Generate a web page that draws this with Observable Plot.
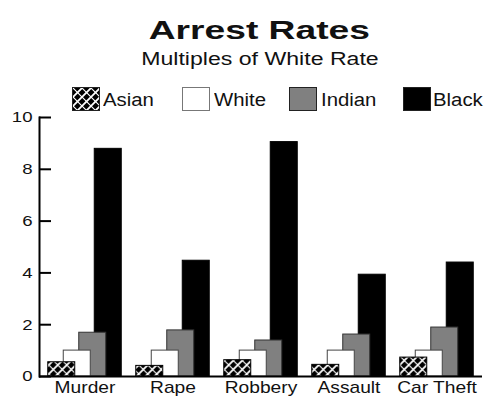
<!DOCTYPE html>
<html>
<head>
<meta charset="utf-8">
<script src="https://cdn.jsdelivr.net/npm/d3@7"></script>
<script src="https://cdn.jsdelivr.net/npm/@observablehq/plot@0.6"></script>
<style>
  body { margin: 0; background: #fff; font-family: "Liberation Sans", Arial, sans-serif; }
  #wrap { position: relative; width: 499px; height: 398px; overflow: hidden; }
  #head { position: relative; width: 499px; height: 104px; z-index: 2; }
  .t { position: absolute; left: 0; width: 519px; text-align: center; color: #111; white-space: nowrap; }
  .t span { display: inline-block; transform-origin: 50% 50%; }
  #title { top: 17px; font-size: 26px; line-height: 26px; font-weight: bold; }
  #title span { transform: scaleX(1.43); }
  #sub { top: 51px; font-size: 17.5px; line-height: 17.5px; }
  #sub span { transform: scaleX(1.32); }
  .sw { position: absolute; top: 87px; width: 26px; height: 22px; border: 1px solid #222; }
  .lt { position: absolute; top: 91px; font-size: 18px; line-height: 18px; color: #111; white-space: nowrap; transform: scaleX(1.13); transform-origin: 0 50%; }
  #chart { position: absolute; top: 104px; left: 0; z-index: 1; }
  #chart svg { background: transparent !important; }
</style>
</head>
<body>
<div id="wrap">
  <div id="head">
    <div class="t" id="title"><span></span></div>
    <div class="t" id="sub"><span></span></div>
    <div id="legend"></div>
  </div>
  <div id="chart"></div>
</div>
<script>
const title = "Arrest Rates";
const subtitle = "Multiples of White Rate";
const categories = ["Murder", "Rape", "Robbery", "Assault", "Car Theft"];
const series = ["Asian", "White", "Indian", "Black"];
const asian = [0.55, 0.41, 0.63, 0.45, 0.73];
const white = [1.0, 1.0, 1.0, 1.0, 1.0];
const indian = [1.69, 1.78, 1.39, 1.62, 1.89];
const black = [8.79, 4.47, 9.05, 3.93, 4.40];
const yTicks = [0, 2, 4, 6, 8, 10];

const values = {Asian: asian, White: white, Indian: indian, Black: black};
const fills = {Asian: "url(#asianHatch)", White: "#ffffff", Indian: "#808080", Black: "#000000"};
const strokes = {Asian: "#000", White: "#444", Indian: "#333", Black: "#000"};
const offsets = {Asian: -23.25, White: -7.75, Indian: 7.75, Black: 23.25};

document.querySelector("#title span").textContent = title;
document.querySelector("#sub span").textContent = subtitle;

// legend
const legendPos = {Asian: [72, 103], White: [182, 214], Indian: [289, 321], Black: [403, 433]};
const legend = document.getElementById("legend");
series.forEach(s => {
  const sw = document.createElement("div");
  sw.className = "sw";
  sw.style.left = legendPos[s][0] + "px";
  if (s === "Asian") {
    sw.innerHTML = '<svg width="26" height="22" style="display:block"><rect width="26" height="22" fill="url(#asianHatchL)"/></svg>';
  } else {
    sw.style.background = fills[s];
  }
  if (s === "White") sw.style.borderColor = "#777";
  legend.appendChild(sw);
  const lt = document.createElement("div");
  lt.className = "lt";
  lt.style.left = legendPos[s][1] + "px";
  lt.textContent = s;
  legend.appendChild(lt);
});

const rows = s => categories.map((c, i) => ({category: c, value: values[s][i]}));
const drawOrder = series.slice().reverse(); // Asian ends up on top

const plot = Plot.plot({
  width: 499,
  height: 294,
  marginTop: 13,
  marginBottom: 22,
  marginLeft: 39,
  marginRight: 17,
  style: {fontFamily: "Liberation Sans, Arial, sans-serif", fontSize: "15px", color: "#111", background: "transparent"},
  x: {type: "band", domain: categories, paddingInner: 0.695, paddingOuter: 0.35, axis: null},
  y: {domain: [0, 10], axis: null},
  marks: [
    ...drawOrder.map(s => Plot.barY(rows(s), {
      x: "category", y: "value", dx: offsets[s],
      fill: fills[s], stroke: strokes[s], strokeWidth: 1
    })),
    Plot.axisX({tickSize: 0, tickPadding: 5, fontSize: 16, label: null}),
    Plot.axisY({ticks: yTicks, tickSize: 12, dx: 12, tickFormat: () => "", strokeWidth: 2, stroke: "#000", label: null}),
    Plot.axisY({ticks: yTicks, tickSize: 0, tickPadding: 7, fontSize: 15.5, label: null}),
    Plot.frame({anchor: "left", stroke: "#000", strokeWidth: 2}),
    Plot.ruleY([0], {stroke: "#000", strokeWidth: 2})
  ]
});

// stretch tick labels horizontally to match the reference's wide lettering
d3.select(plot).selectAll("g[aria-label='x-axis tick label'] text, g[aria-label='y-axis tick label'] text").each(function() {
  const t = this.getAttribute("transform") || "";
  this.setAttribute("transform", `${t} scale(1.2,1)`);
});

// hatch patterns
const hatch = (id) => `<pattern id="${id}" patternUnits="userSpaceOnUse" width="9" height="9">` +
  '<rect width="9" height="9" fill="#000"/>' +
  '<path d="M-1,1 L1,-1 M0,9 L9,0 M8,10 L10,8" stroke="#fff" stroke-width="1.8"/>' +
  '<path d="M0,0 L9,9 M-1,8 L1,10 M8,-1 L10,1" stroke="#fff" stroke-width="1.1"/></pattern>';
d3.select(plot).insert("defs", ":first-child").html(hatch("asianHatch"));
document.getElementById("chart").appendChild(plot);

const ldefs = document.createElementNS("http://www.w3.org/2000/svg", "svg");
ldefs.setAttribute("width", 0); ldefs.setAttribute("height", 0);
ldefs.style.position = "absolute";
ldefs.innerHTML = '<defs>' + hatch("asianHatchL") + '</defs>';
document.body.appendChild(ldefs);
</script>
</body>
</html>
